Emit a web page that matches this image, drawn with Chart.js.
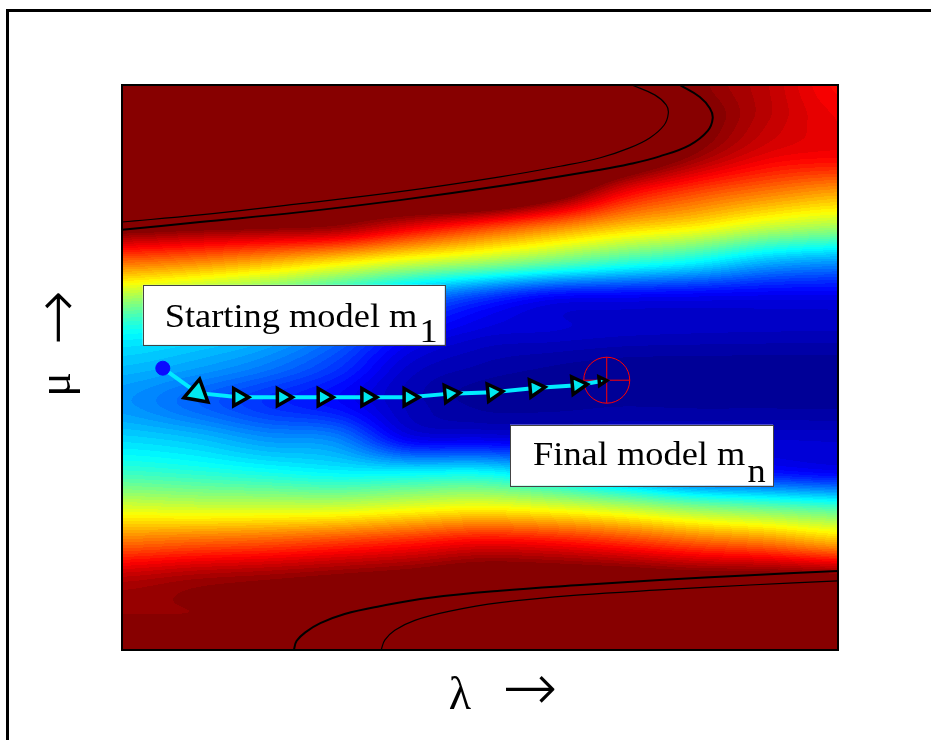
<!DOCTYPE html>
<html><head><meta charset="utf-8">
<script src="https://cdn.jsdelivr.net/npm/chart.js@4/dist/chart.umd.min.js"></script>
<style>html,body{margin:0;padding:0;background:#fff;} #wrap{width:931px;height:740px;}</style>
</head><body><div id="wrap"><canvas id="c" width="931" height="740"></canvas></div>
<script>
// ---- field grid (misfit, normalised colour value) ----
const lambdaNodes = [0,1,2,3,4,5,6,7,8,9,10];
const muNodes = [8,7.5,7,6.5,6,5.5,5,4.5,4,3.5,3,2.5,2,1.5,1,0.5,0];
const misfitRows = [
  [1.7, 1.7, 1.65, 1.6, 1.55, 1.55, 1.5, 1.12, 1.0, 0.94, 0.87],
  [1.6, 1.6, 1.55, 1.5, 1.45, 1.45, 1.4, 1.1, 1.02, 0.94, 0.89],
  [1.5, 1.5, 1.45, 1.3, 1.3, 1.3, 1.25, 1.1, 0.98, 0.9, 0.88],
  [1.3, 1.3, 1.25, 1.1, 1.15, 1.18, 1.07, 0.899, 0.815, 0.763, 0.725],
  [1.04, 1.02, 1.005, 0.98, 0.906, 0.833, 0.758, 0.685, 0.64, 0.576, 0.54],
  [0.775, 0.75, 0.708, 0.652, 0.592, 0.542, 0.483, 0.425, 0.375, 0.305, 0.277],
  [0.544, 0.5, 0.45, 0.372, 0.271, 0.185, 0.124, 0.114, 0.108, 0.104, 0.103],
  [0.383, 0.358, 0.323, 0.25, 0.14, 0.088, 0.077, 0.068, 0.064, 0.062, 0.061],
  [0.31, 0.284, 0.243, 0.176, 0.075, 0.044, 0.03, 0.022, 0.021, 0.02, 0.02],
  [0.27, 0.222, 0.17, 0.128, 0.058, 0.026, 0.024, 0.028, 0.026, 0.026, 0.025],
  [0.335, 0.313, 0.27, 0.25, 0.11, 0.097, 0.088, 0.084, 0.078, 0.076, 0.074],
  [0.433, 0.417, 0.396, 0.375, 0.375, 0.382, 0.325, 0.244, 0.17, 0.146, 0.124],
  [0.595, 0.585, 0.585, 0.588, 0.612, 0.632, 0.61, 0.57, 0.517, 0.483, 0.45],
  [0.775, 0.792, 0.806, 0.831, 0.86, 0.893, 0.88, 0.844, 0.8, 0.768, 0.717],
  [0.946, 0.969, 0.983, 1.0, 1.02, 1.05, 1.05, 1.045, 1.032, 1.03, 1.02],
  [0.985, 0.985, 0.99, 1.0, 1.05, 1.1, 1.12, 1.12, 1.12, 1.1, 1.08],
  [0.99, 0.99, 0.995, 1.0, 1.08, 1.15, 1.2, 1.2, 1.2, 1.15, 1.12]
];
// ---- iteration path ----
const pathLambda = [0.57, 1.05, 1.63, 2.24, 2.81, 3.42, 4.01, 4.58, 5.18, 5.77, 6.36, 6.70];
const pathMu     = [3.99, 3.64, 3.58, 3.58, 3.58, 3.58, 3.58, 3.63, 3.65, 3.71, 3.75, 3.81];
const finalLambda = [6.77];
const finalMu = [3.82];
// ---- contour lines ----
const topInnerLambda = [0, 1.09, 2.49, 3.88, 5.28, 6.12, 6.68, 7.09, 7.37, 7.57, 7.63, 7.60, 7.44, 7.12];
const topInnerMu     = [6.06, 6.16, 6.32, 6.49, 6.70, 6.85, 6.97, 7.11, 7.25, 7.43, 7.60, 7.72, 7.86, 8.00];
const topOuterLambda = [0, 1.09, 2.49, 3.88, 5.28, 6.68, 7.09, 7.51, 7.93, 8.18, 8.25, 8.21, 8.07, 7.79];
const topOuterMu     = [5.95, 6.06, 6.20, 6.37, 6.57, 6.80, 6.88, 6.99, 7.15, 7.35, 7.53, 7.67, 7.83, 8.00];
const botOuterLambda = [2.40, 2.44, 2.56, 2.77, 3.11, 3.60, 4.30, 5.28, 6.40, 7.51, 8.77, 10.0];
const botOuterMu     = [0, 0.13, 0.25, 0.38, 0.51, 0.62, 0.74, 0.84, 0.92, 0.99, 1.06, 1.12];
const botInnerLambda = [3.62, 3.67, 3.81, 4.09, 4.58, 5.28, 6.40, 7.51, 8.77, 10.0];
const botInnerMu     = [0, 0.14, 0.28, 0.42, 0.55, 0.67, 0.78, 0.85, 0.92, 0.98];
// ---- labels ----
const startLabel = ['Starting model m', '1'];
const finalLabel = ['Final model m', 'n'];
const xTitle = ['λ', '→'];
const yTitle = ['μ', '→'];

const pts = (xs, ys) => xs.map((v, i) => ({x: v, y: ys[i]}));

function locate(nodes, v) {
  for (let k = 0; k < nodes.length - 1; k++) {
    const a = nodes[k], b = nodes[k + 1];
    if (v >= Math.min(a, b) && v <= Math.max(a, b)) return k + (v - a) / (b - a);
  }
  const first = nodes[0], last = nodes[nodes.length - 1];
  return Math.abs(v - first) < Math.abs(v - last) ? 0 : nodes.length - 1;
}
// Catmull-Rom sampling weights for a fractional node index
function cubicTaps(fi, n) {
  const k = Math.min(n - 2, Math.floor(fi)), f = fi - k;
  const f2 = f * f, f3 = f2 * f;
  const w = [(-f3 + 2 * f2 - f) / 2, (3 * f3 - 5 * f2 + 2) / 2, (-3 * f3 + 4 * f2 + f) / 2, (f3 - f2) / 2];
  const idx = [k - 1, k, k + 1, k + 2].map(v => Math.max(0, Math.min(n - 1, v)));
  return {idx, w};
}
function jet(t) {
  const c = u => Math.max(0, Math.min(1, u));
  return [c(1.5 - Math.abs(4 * t - 3)), c(1.5 - Math.abs(4 * t - 2)), c(1.5 - Math.abs(4 * t - 1))];
}

const bgPlugin = {
  id: 'bg',
  beforeDraw(chart) {
    const ctx = chart.ctx;
    ctx.save();
    ctx.fillStyle = '#fff';
    ctx.fillRect(0, 0, chart.width, chart.height);
    ctx.strokeStyle = '#000';
    ctx.lineWidth = 3;
    ctx.beginPath();
    ctx.moveTo(7.5, chart.height + 2);
    ctx.lineTo(7.5, 10.5);
    ctx.lineTo(chart.width + 2, 10.5);
    ctx.stroke();
    ctx.restore();
  }
};

const heatmapPlugin = {
  id: 'heatmap',
  beforeDatasetsDraw(chart) {
    const {ctx, chartArea: a, scales: {x, y}} = chart;
    const w = Math.round(a.right - a.left), h = Math.round(a.bottom - a.top);
    const off = document.createElement('canvas');
    off.width = w; off.height = h;
    const octx = off.getContext('2d');
    const img = octx.createImageData(w, h);
    const nc = lambdaNodes.length, nr = muNodes.length;
    const ct = [], rt = [];
    for (let i = 0; i < w; i++) ct.push(cubicTaps(locate(lambdaNodes, x.getValueForPixel(a.left + i + 0.5)), nc));
    for (let j = 0; j < h; j++) rt.push(cubicTaps(locate(muNodes, y.getValueForPixel(a.top + j + 0.5)), nr));
    for (let j = 0; j < h; j++) {
      const R = rt[j];
      for (let i = 0; i < w; i++) {
        const C = ct[i];
        let t = 0;
        for (let q = 0; q < 4; q++) {
          const row = misfitRows[R.idx[q]];
          t += R.w[q] * (C.w[0] * row[C.idx[0]] + C.w[1] * row[C.idx[1]] + C.w[2] * row[C.idx[2]] + C.w[3] * row[C.idx[3]]);
        }
        t = Math.max(0, Math.min(1, t));
        const lv = Math.min(63, Math.floor(t * 64));
        const col = jet((lv + 0.5) / 64);
        const p = (j * w + i) * 4;
        img.data[p] = Math.round(col[0] * 255);
        img.data[p + 1] = Math.round(col[1] * 255);
        img.data[p + 2] = Math.round(col[2] * 255);
        img.data[p + 3] = 255;
      }
    }
    octx.putImageData(img, 0, 0);
    ctx.drawImage(off, a.left, a.top);
  }
};

function drawBox(ctx, xs, ys, box) {
  const left = xs.getPixelForValue(box.lam), top = ys.getPixelForValue(box.mu);
  ctx.save();
  ctx.fillStyle = '#fff';
  ctx.fillRect(left, top, box.w, box.h);
  ctx.strokeStyle = '#444';
  ctx.lineWidth = 1;
  ctx.strokeRect(Math.round(left) + 0.5, Math.round(top) + 0.5, box.w, box.h);
  ctx.fillStyle = '#000';
  ctx.font = '34px "Liberation Serif", "Times New Roman", serif';
  ctx.textBaseline = 'alphabetic';
  ctx.textAlign = 'left';
  ctx.translate(left + box.tx, top + box.ty);
  ctx.scale(1.07, 1);
  ctx.fillText(box.text[0], 0, 0);
  const tw = ctx.measureText(box.text[0]).width;
  ctx.fillText(box.text[1], tw + 2, box.sub);
  ctx.restore();
}

const overlayPlugin = {
  id: 'overlay',
  afterDatasetsDraw(chart) {
    const {ctx, chartArea: a, scales: {x, y}} = chart;
    ctx.save();
    ctx.strokeStyle = '#000';
    ctx.lineWidth = 2;
    ctx.strokeRect(a.left, a.top, a.right - a.left, a.bottom - a.top);
    ctx.restore();
    drawBox(ctx, x, y, {lam: 0.29, mu: 5.17, w: 302, h: 60, tx: 22, ty: 42, sub: 15, text: startLabel});
    drawBox(ctx, x, y, {lam: 5.42, mu: 3.19, w: 263, h: 61, tx: 23, ty: 40, sub: 17, text: finalLabel});
    // axis titles
    ctx.save();
    ctx.fillStyle = '#000';
    ctx.textAlign = 'center';
    ctx.textBaseline = 'alphabetic';
    const cx = (a.left + a.right) / 2;
    const symFont = '46px "Liberation Serif", "DejaVu Serif", serif';
    const arrowFont = '200 66px "DejaVu Sans", sans-serif';
    ctx.font = symFont;
    ctx.fillText(xTitle[0], cx - 20, a.bottom + 59);
    ctx.font = arrowFont;
    ctx.fillText(xTitle[1], cx + 50, a.bottom + 60);
    ctx.translate(70, (a.top + a.bottom) / 2);
    ctx.rotate(-Math.PI / 2);
    ctx.font = symFont;
    ctx.fillText(yTitle[0], -17, 0);
    ctx.font = arrowFont;
    ctx.fillText(yTitle[1], 50, 9);
    ctx.restore();
  }
};

const n = pathLambda.length;
const styles = pathLambda.map((_, i) => i === 0 ? 'circle' : 'triangle');
const radii = pathLambda.map((_, i) => i === 0 ? 7 : (i === 1 ? 14 : (i === n - 1 ? 5 : 10)));
const rots = pathLambda.map((_, i) => i === 1 ? 250 : (i >= 7 ? 85 : 90));
const fills = pathLambda.map((_, i) => i === 0 ? '#0a0aff' : 'rgb(0,232,240)');
const borders = pathLambda.map((_, i) => i === 0 ? '#0a0aff' : '#000');
const bw = pathLambda.map((_, i) => i === 0 ? 1 : 3.5);

const contourDs = (xs, ys, width) => ({
  data: pts(xs, ys), showLine: true, borderColor: '#000', borderWidth: width,
  pointRadius: 0, tension: 0.4, order: 3
});

new Chart(document.getElementById('c'), {
  type: 'scatter',
  data: {
    datasets: [
      {
        data: pts(pathLambda, pathMu), showLine: true, borderColor: 'rgb(0,235,255)', borderWidth: 4,
        pointStyle: styles, pointRadius: radii, pointRotation: rots,
        pointBackgroundColor: fills, pointBorderColor: borders, pointBorderWidth: bw, order: 0
      },
      { data: pts(finalLambda, finalMu), pointStyle: 'circle', pointRadius: 23, pointBackgroundColor: 'rgba(0,0,0,0)', pointBorderColor: '#ff0000', pointBorderWidth: 1, order: 1 },
      { data: pts(finalLambda, finalMu), pointStyle: 'cross', pointRadius: 23, pointBorderColor: '#ff0000', pointBorderWidth: 1, order: 1 },
      contourDs(topInnerLambda, topInnerMu, 1.2),
      contourDs(topOuterLambda, topOuterMu, 2),
      contourDs(botOuterLambda, botOuterMu, 2),
      contourDs(botInnerLambda, botInnerMu, 1.2)
    ]
  },
  options: {
    responsive: false, animation: false, devicePixelRatio: 1, events: [],
    layout: { padding: { left: 122, right: 93, top: 85, bottom: 90 } },
    scales: {
      x: { type: 'linear', min: 0, max: 10, display: false },
      y: { type: 'linear', min: 0, max: 8, display: false }
    },
    plugins: { legend: { display: false }, tooltip: { enabled: false } }
  },
  plugins: [bgPlugin, heatmapPlugin, overlayPlugin]
});
</script>
</body></html>
